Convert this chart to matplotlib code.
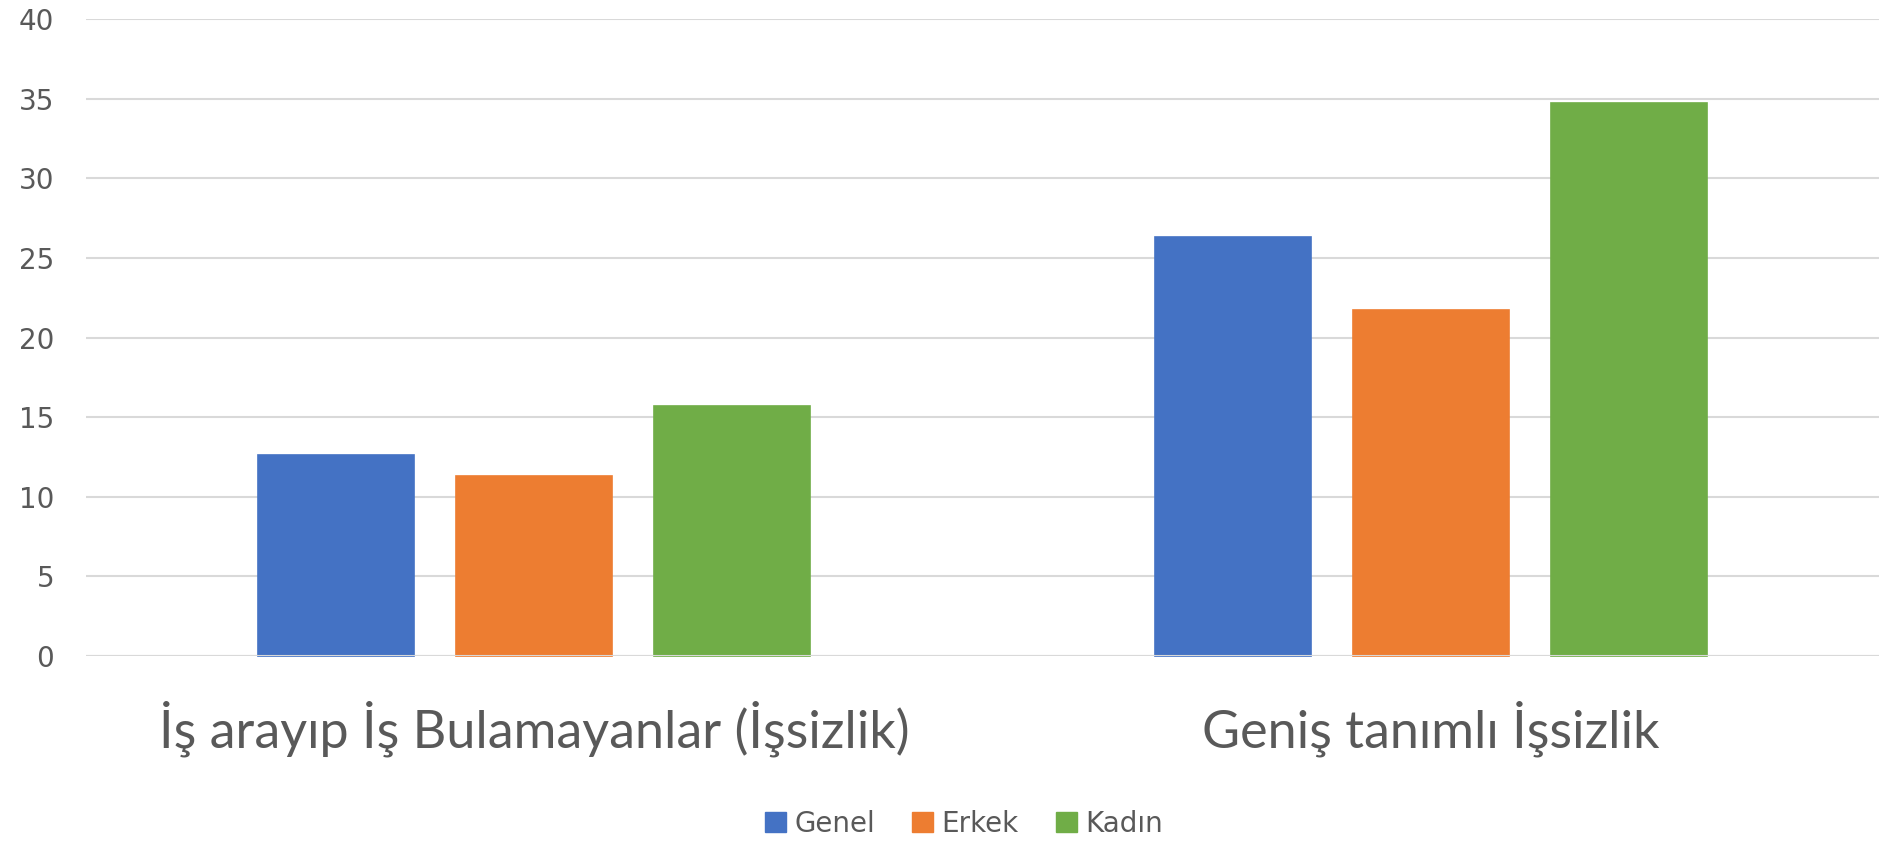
import numpy as np
import matplotlib
matplotlib.use('Agg')
import matplotlib.pyplot as plt
from matplotlib.patches import Patch

plt.rcParams['font.family'] = ['Lato', 'DejaVu Sans']

categories = ['İş arayıp İş Bulamayanlar (İşsizlik)', 'Geniş tanımlı İşsizlik']
series = ['Genel', 'Erkek', 'Kadın']
genel = [12.6, 26.3]
erkek = [11.3, 21.7]
kadin = [15.7, 34.7]
colors = ['#4472C4', '#ED7D31', '#70AD47']
yticks = [0, 5, 10, 15, 20, 25, 30, 35, 40]

fig = plt.figure(figsize=(18.83, 8.42), dpi=100)
ax = fig.add_axes([86 / 1883, 1 - 656 / 842, (1879 - 86) / 1883, (656 - 19) / 842])

x = np.arange(len(categories))
width = 0.174
step = 0.221
for i, (vals, c) in enumerate(zip([genel, erkek, kadin], colors)):
    ax.bar(x + (i - 1) * step, vals, width, color=c, edgecolor=c,
           linewidth=1.2, zorder=2, clip_on=False)

ax.set_xlim(-0.5, 1.5)
ax.set_ylim(0, 40)
ax.set_yticks(yticks)
ax.yaxis.grid(True, color='#D9D9D9', linewidth=1.5, zorder=0)
ax.set_axisbelow(True)
ax.axhline(0, color='#D9D9D9', linewidth=1.5, zorder=3)
for s in ax.spines.values():
    s.set_visible(False)

ax.set_xticks(x)
ax.set_xticklabels(categories, fontsize=37.5, color='#595959')
ax.tick_params(axis='x', length=0, pad=32)
ax.tick_params(axis='y', length=0, pad=23, labelcolor='#595959')
for lbl in ax.get_yticklabels():
    lbl.set_fontfamily('DejaVu Sans')
    lbl.set_fontsize(20)

handles = [Patch(facecolor=c, edgecolor=c, label=s) for s, c in zip(series, colors)]
fig.legend(handles=handles, loc='center', bbox_to_anchor=(964 / 1883, 1 - 824 / 842),
           ncol=3, frameon=False, labelcolor='#595959',
           prop={'family': 'DejaVu Sans', 'size': 20},
           handlelength=0.75, handleheight=0.75, handletextpad=0.3, columnspacing=1.35)

fig.savefig('out.png', dpi=100)
